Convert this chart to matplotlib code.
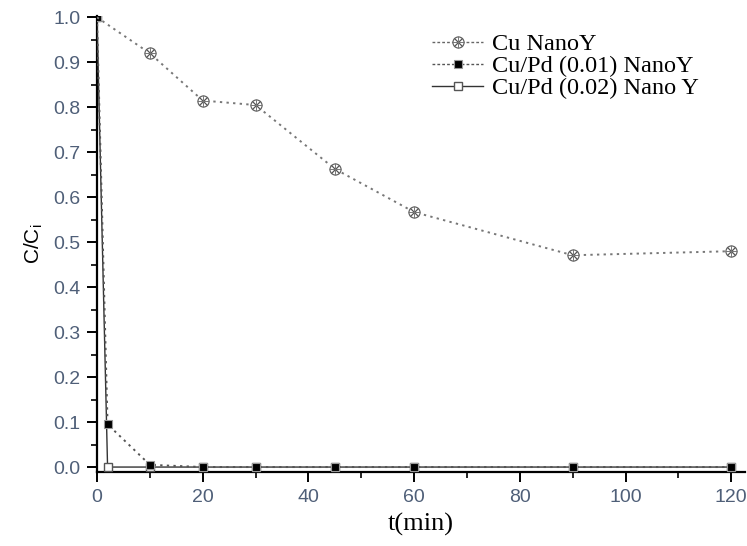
import matplotlib
matplotlib.use('Agg')
from matplotlib import pyplot as plt
from matplotlib.ticker import MultipleLocator
from matplotlib.lines import Line2D
from matplotlib.legend_handler import HandlerTuple

# time points (min)
t = [0, 2, 10, 20, 30, 45, 60, 90, 120]
t_cu = [0, 10, 20, 30, 45, 60, 90, 120]

cu_nanoy = [1.0, 0.92, 0.815, 0.805, 0.663, 0.567, 0.471, 0.48]
cupd_001 = [1.0, 0.095, 0.005, 0.0, 0.0, 0.0, 0.0, 0.0, 0.0]
cupd_002 = [1.0, 0.0, 0.0, 0.0, 0.0, 0.0, 0.0, 0.0, 0.0]

labels = ['Cu NanoY', 'Cu/Pd (0.01) NanoY', 'Cu/Pd (0.02) Nano Y']

TICK_COLOR = '#4f5f78'
DOTTED = (0, (1.2, 2.2))


def main():
    fig = plt.figure(figsize=(7.47, 5.46), dpi=100)
    ax = fig.add_axes([97 / 747, 1 - 472 / 546, (745 - 97) / 747, (472 - 16) / 546])

    # Cu/Pd (0.02): solid line, hollow squares
    ax.plot(t, cupd_002, '-', color='#333333', lw=1.0,
            marker='s', ms=6, mfc='white', mec='#555555', mew=1.0, zorder=3)
    # Cu/Pd (0.01): dotted line, filled squares
    ax.plot(t, cupd_001, linestyle=DOTTED, color='#555555', lw=1.4,
            marker='s', ms=6, mfc='black', mec='#999999', mew=0.8, zorder=4)
    # Cu NanoY: dotted line, starred circle markers (first point hidden under the squares)
    ax.plot(t_cu, cu_nanoy, linestyle=DOTTED, color='#777777', lw=1.4, zorder=5)
    ax.plot(t_cu[1:], cu_nanoy[1:], 'o', ms=8, mfc='white', mec='#666666', mew=0.9, zorder=6)
    ax.plot(t_cu[1:], cu_nanoy[1:], 'x', ms=6, mec='#555555', mew=0.9, zorder=7)
    ax.plot(t_cu[1:], cu_nanoy[1:], '+', ms=8, mec='#777777', mew=0.7, zorder=7)

    ax.set_xlim(0, 122.6)
    ax.set_ylim(-0.011, 1.003)
    ax.xaxis.set_major_locator(MultipleLocator(20))
    ax.xaxis.set_minor_locator(MultipleLocator(10))
    ax.yaxis.set_major_locator(MultipleLocator(0.1))
    ax.yaxis.set_minor_locator(MultipleLocator(0.05))
    ax.yaxis.set_major_formatter(plt.FuncFormatter(lambda v, p: '%.1f' % v))

    for s in ['top', 'right']:
        ax.spines[s].set_visible(False)
    ax.spines['left'].set_linewidth(1.6)
    ax.spines['bottom'].set_linewidth(1.6)

    ax.tick_params(which='major', direction='out', length=7, width=1.4,
                   labelsize=14, labelcolor=TICK_COLOR, pad=5)
    ax.tick_params(which='minor', direction='out', length=4, width=1.2)
    for lab in ax.get_xticklabels() + ax.get_yticklabels():
        lab.set_family('Liberation Sans')

    ax.set_xlabel('t(min)', fontsize=19, family='Liberation Serif', labelpad=5)
    ax.set_ylabel(r'C/C$_\mathregular{i}$', fontsize=15, family='Liberation Sans', labelpad=6)

    # legend handles
    h1 = (Line2D([], [], linestyle=(0, (2, 1.5)), color='#666666', lw=1.0),
          Line2D([], [], marker='o', ms=8, mfc='white', mec='#666666', mew=0.9, ls='none'),
          Line2D([], [], marker='x', ms=6, mec='#555555', mew=0.9, ls='none'),
          Line2D([], [], marker='+', ms=8, mec='#777777', mew=0.7, ls='none'))
    h2 = Line2D([], [], linestyle=(0, (2, 1.5)), color='#555555', lw=1.0,
                marker='s', ms=6, mfc='black', mec='#999999', mew=0.8)
    h3 = Line2D([], [], linestyle='-', color='#333333', lw=1.0,
                marker='s', ms=6, mfc='white', mec='#555555', mew=1.0)
    ax.legend([h1, h2, h3], labels, loc='upper left',
              bbox_to_anchor=(432 / 747, 1 - 33 / 546), bbox_transform=fig.transFigure,
              frameon=False, borderpad=0, borderaxespad=0,
              prop={'family': 'Liberation Serif', 'size': 17.5},
              handlelength=2.1, labelspacing=0.0, handletextpad=0.35,
              handler_map={tuple: HandlerTuple(ndivide=1, pad=0)})

    fig.savefig('out.png', dpi=100)


if __name__ == "__main__":
    main()
